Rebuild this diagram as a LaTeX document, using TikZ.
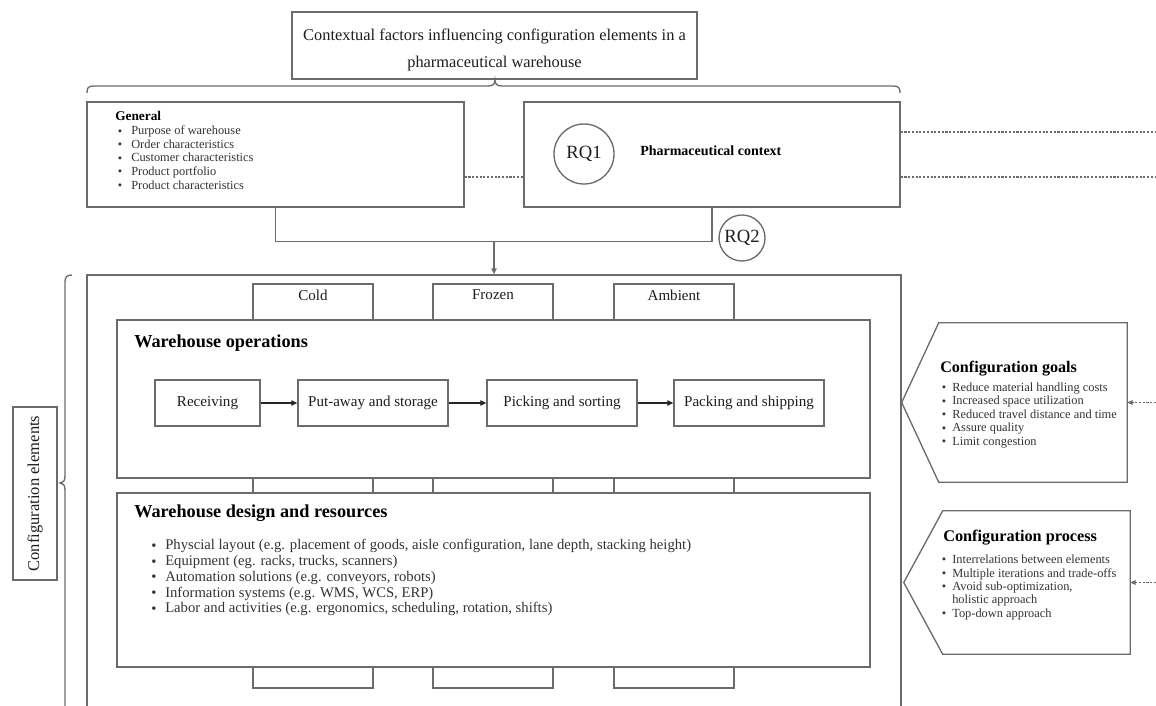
\documentclass[tikz,border=0pt]{standalone}
\usepackage{fontspec}
\setmainfont{Liberation Serif}
\usetikzlibrary{arrows.meta,calc}
\definecolor{linecol}{HTML}{6B6B6B}
\definecolor{textcol}{HTML}{1E1E1E}
\definecolor{listcol}{HTML}{333333}
\begin{document}
\begin{tikzpicture}[x=0.75pt,y=-0.75pt,
  every node/.style={text=textcol},
  lineframe/.style={draw=linecol, line width=1pt},
  box/.style 2 args={lineframe, fill=white, inner sep=0pt,
    minimum width=#1*0.75pt, minimum height=#2*0.75pt},
  area/.style 2 args={inner sep=0pt, minimum width=#1*0.75pt, minimum height=#2*0.75pt},
  dotline/.style={draw=linecol, line width=0.8pt, dash pattern=on 1.6pt off 1.2pt},
  arrowline/.style={draw=black!85, line width=0.8pt, -{Triangle[length=4.5pt,width=4pt]}},
  head/.style={anchor=west, inner sep=0pt, text=black, font=\bfseries\fontsize{#1}{#1}\selectfont},
  listtxt/.style={anchor=west, inner sep=0pt, text=listcol, font=\fontsize{#1}{#1}\selectfont,
    execute at begin node=\strut},
  bul/.style={inner sep=0pt, text=listcol, font=\fontsize{#1}{#1}\selectfont},
  steptxt/.style={font=\fontsize{11.3}{13}\selectfont},
  rq/.style={circle, lineframe, inner sep=0pt, minimum size=#1*0.75pt, font=\fontsize{14}{16}\selectfont}
]
\path[use as bounding box] (0,0) rectangle (1156,706);
\clip (0,0) rectangle (1156,706);

% ---------- heading ----------
\node[box={405}{67}] (title) at (494.5,45.5) {};
\node[align=center, inner sep=0pt, font=\fontsize{12.3}{20}\selectfont] (titletext) at (494.5,50)
  {Contextual factors influencing configuration elements in a\\pharmaceutical warehouse};

% brace under the heading
\draw[lineframe] (87,93) .. controls (87,88) and (88,86) .. (94,86) -- (488,86)
  .. controls (493,86) and (495,84) .. (495,80)
  .. controls (495,84) and (497,86) .. (502,86) -- (893,86)
  .. controls (899,86) and (900,88) .. (900,93);

% ---------- contextual factors ----------
\node[box={377}{105}] (general) at (275.5,154.5) {};
\node[head=10] (genhead) at (115,116) {General};
\foreach \t [count=\i] in {Purpose of warehouse, Order characteristics,
    Customer characteristics, Product portfolio, Product characteristics} {
  \node[bul=9.3] (genbul\i) at ({120},{132.3+13.6*(\i-1)}) {•};
  \node[listtxt=9.3] (genitem\i) at ({131},{132.3+13.6*(\i-1)}) {\t};
}

\node[box={376}{105}] (pharma) at (712,154.5) {};
\node[rq=60] (rq1) at (584,154) {RQ1};
\node[head=10.5] (pharmahead) at (640,151) {Pharmaceutical context};

\coordinate (dashy) at (0,177);
\coordinate (rim1) at (1156,132);
\coordinate (rim2) at (1156,177);
\draw[dotline] (general.east |- dashy) -- (pharma.west |- dashy);
\draw[dotline] (pharma.east |- rim1) -- (rim1);
\draw[dotline] (pharma.east |- rim2) -- (rim2);

% ---------- configuration elements frame ----------
\node[lineframe, inner sep=0pt, minimum width=814*0.75pt, minimum height=460*0.75pt] (outer) at (494,505) {};

\draw[lineframe] (general.south) -- ++(0,34) coordinate (joinl) -| (pharma.south);
\coordinate (junc) at (494,241);
\draw[lineframe, -{Triangle[length=4.5pt,width=4pt]}] (junc) -- (junc |- outer.north);
\node[rq=46] (rq2) at (742,238) {RQ2};

% temperature zones
\node[box={120}{404}] (cold) at (313,486) {};
\node[box={120}{404}] (frozen) at (493,486) {};
\node[box={120}{404}] (ambient) at (674,486) {};
\node[steptxt] (coldlbl) at (313,295) {Cold};
\node[steptxt] (frozenlbl) at (493,295) {Frozen};
\node[steptxt] (ambientlbl) at (674,295) {Ambient};

% warehouse operations
\node[box={753}{158}] (ops) at (493.5,399) {};
\node[head=13.7] (opshead) at (134,343) {Warehouse operations};
\node[box={105}{46}, steptxt] (recv) at (207.5,403) {Receiving};
\node[box={150}{46}, steptxt] (store) at (373,403) {Put-away and storage};
\node[box={150}{46}, steptxt] (pick) at (562,403) {Picking and sorting};
\node[box={150}{46}, steptxt] (pack) at (749,403) {Packing and shipping};
\draw[arrowline] (recv) -- (store);
\draw[arrowline] (store) -- (pick);
\draw[arrowline] (pick) -- (pack);

% warehouse design and resources
\node[box={753}{174}] (design) at (493.5,580) {};
\node[head=13.7] (designhead) at (134,513) {Warehouse design and resources};
\foreach \t [count=\i] in {
    {Physcial layout (e.g. placement of goods, aisle configuration, lane depth, stacking height)},
    {Equipment (eg. racks, trucks, scanners)},
    {Automation solutions (e.g. conveyors, robots)},
    {Information systems (e.g. WMS, WCS, ERP)},
    {Labor and activities (e.g. ergonomics, scheduling, rotation, shifts)}} {
  \node[bul=11] (desbul\i) at ({154},{547+15.7*(\i-1)}) {•};
  \node[listtxt=11] (desitem\i) at ({165},{547+15.7*(\i-1)}) {\t};
}

% side label with brace
\node[lineframe, rotate=90, inner sep=0pt, minimum width=173*0.75pt, minimum height=44*0.75pt,
  font=\fontsize{12.4}{14}\selectfont] (cfgel) at (35,493.5) {Configuration elements};
\draw[lineframe] (72,275) .. controls (67,275) and (65,277) .. (65,282) -- (65,476)
  .. controls (65,481) and (63,483) .. (60,483)
  .. controls (63,483) and (65,485) .. (65,490) -- (65,720);

% ---------- configuration goals ----------
\node[area={188}{159}] (goals) at (1033,402.5) {};
\draw[lineframe] (goals.north west) -- (goals.north east) -- (goals.south east)
  -- (goals.south west) -- (goals.west -| outer.east) -- cycle;
\node[head=12.1] (goalshead) at (940,369) {Configuration goals};
\foreach \t [count=\i] in {Reduce material handling costs, Increased space utilization,
    Reduced travel distance and time, Assure quality, Limit congestion} {
  \node[bul=9.3] (goalbul\i) at ({944},{389+13.5*(\i-1)}) {•};
  \node[listtxt=9.3] (goalitem\i) at ({952},{389+13.5*(\i-1)}) {\t};
}
\coordinate (goalsin) at (1156,402.5);
\draw[dotline, -{Triangle[length=4pt,width=3.5pt]}] (goalsin) -- (goals.east);

% ---------- configuration process ----------
\node[area={187}{143}] (process) at (1036.5,582.5) {};
\draw[lineframe] (process.north west) -- (process.north east) -- (process.south east)
  -- (process.south west) -- ($(process.west)+(-39,0)$) -- cycle;
\node[head=12.2] (processhead) at (943,538) {Configuration process};
\node[bul=9.3] (procbul1) at (944,561) {•};
\node[listtxt=9.3] (procitem1) at (952,561) {Interrelations between elements};
\node[bul=9.3] (procbul2) at (944,574.5) {•};
\node[listtxt=9.3] (procitem2) at (952,574.5) {Multiple iterations and trade-offs};
\node[bul=9.3] (procbul3) at (944,588) {•};
\node[listtxt=9.3] (procitem3) at (952,588) {Avoid sub-optimization,};
\node[listtxt=9.3] (procitem3b) at (952,601.5) {holistic approach};
\node[bul=9.3] (procbul4) at (944,615) {•};
\node[listtxt=9.3] (procitem4) at (952,615) {Top-down approach};
\coordinate (processin) at (1156,582.5);
\draw[dotline, -{Triangle[length=4pt,width=3.5pt]}] (processin) -- (process.east);

\end{tikzpicture}
\end{document}
